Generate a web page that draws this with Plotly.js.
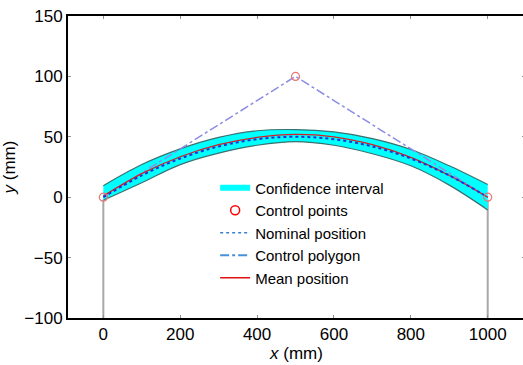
<!DOCTYPE html>
<html>
<head>
<meta charset="utf-8">
<script src="https://cdn.plot.ly/plotly-3.0.1.min.js"></script>
<style>html,body{margin:0;padding:0;overflow:hidden;background:#fff;}#chart{width:525px;height:365px;}</style>
</head>
<body>
<div id="chart"></div>
<script>
// Data
var xs = [0, 100, 200, 300, 400, 500, 600, 700, 800, 900, 1000];
var nominalY = [0, 18, 32, 42, 48, 50, 48, 42, 32, 18, 0];
var meanY = [1, 19.5, 33.5, 43.5, 49.5, 52, 50, 43.5, 33, 18, 0];
var upperY = [9.5, 27, 40, 49.5, 55, 56, 54, 48.5, 39.5, 26, 10.5];
var lowerY = [-2.5, 12, 27, 36.5, 43, 46, 43, 36, 26, 10, -10.5];
var controlX = [0, 500, 1000];
var controlY = [0, 100, 0];
var supportLeftX = [0, 0];
var supportRightX = [1000, 1000];
var supportY = [-100, -2];
var legendNames = ['Confidence interval', 'Control points', 'Nominal position', 'Control polygon', 'Mean position'];

var edge = {color: '#3a7070', width: 1.2, shape: 'spline'};
var traces = [
  {x: supportLeftX, y: supportY, mode: 'lines', line: {color: '#a8a8a8', width: 2}, showlegend: false, hoverinfo: 'skip'},
  {x: supportRightX, y: supportY, mode: 'lines', line: {color: '#a8a8a8', width: 2}, showlegend: false, hoverinfo: 'skip'},
  {x: xs, y: lowerY, mode: 'lines', line: edge, showlegend: false},
  {x: xs, y: upperY, mode: 'lines', fill: 'tonexty', fillcolor: '#00ffff', line: edge, showlegend: false},
  {x: controlX, y: controlY, mode: 'lines', line: {color: '#8c8ce6', width: 1.5, dash: 'dashdot'}, showlegend: false},
  {x: xs, y: meanY, mode: 'lines', line: {color: '#d42020', width: 1.2, shape: 'spline'}, showlegend: false},
  {x: xs, y: nominalY, mode: 'lines', line: {color: '#1e32d8', width: 2, dash: 'dot', shape: 'spline'}, showlegend: false},
  {x: controlX, y: controlY, mode: 'markers', marker: {symbol: 'circle-open', size: 8, color: '#e87878', line: {width: 1.2}}, showlegend: false},
  // legend entries
  {x: [null], y: [null], name: legendNames[0], mode: 'none', fill: 'toself', fillcolor: '#00ffff'},
  {x: [null], y: [null], name: legendNames[1], mode: 'markers', marker: {symbol: 'circle-open', size: 9, color: '#ff0000', line: {width: 1.5}}},
  {x: [null], y: [null], name: legendNames[2], mode: 'lines', line: {color: '#3a80d0', width: 1.5, dash: 'dot'}},
  {x: [null], y: [null], name: legendNames[3], mode: 'lines', line: {color: '#4a90d9', width: 2, dash: 'dashdot'}},
  {x: [null], y: [null], name: legendNames[4], mode: 'lines', line: {color: '#e01010', width: 1.5}}
];

var fontFam = 'Liberation Sans, Arial, sans-serif';
var layout = {
  width: 525, height: 365,
  margin: {l: 68, r: 0, t: 16, b: 47},
  paper_bgcolor: '#ffffff', plot_bgcolor: '#ffffff',
  font: {family: fontFam, size: 16, color: '#000'},
  showlegend: true,
  legend: {x: 0.322, y: 0.485, xanchor: 'left', yanchor: 'top', bgcolor: 'rgba(255,255,255,0)', borderwidth: 0,
           traceorder: 'normal', font: {family: fontFam, size: 15, color: '#000'}, tracegroupgap: 0},
  xaxis: {
    range: [-91.9, 1097], tickvals: [0, 200, 400, 600, 800, 1000], showgrid: false, zeroline: false,
    showline: true, linecolor: '#000', linewidth: 2, mirror: 'ticks',
    ticks: 'inside', ticklen: 3, tickcolor: '#909090', tickwidth: 1,
    tickfont: {family: fontFam, size: 17, color: '#000'},
    title: {text: '<i>x</i> (mm)', font: {family: fontFam, size: 17, color: '#000'}, standoff: 3}
  },
  yaxis: {
    range: [-100, 150], tickvals: [-100, -50, 0, 50, 100, 150], showgrid: false, zeroline: false,
    showline: true, linecolor: '#000', linewidth: 2, mirror: 'ticks',
    ticks: 'inside', ticklen: 3, tickcolor: '#909090', tickwidth: 1,
    tickfont: {family: fontFam, size: 17, color: '#000'},
    title: {text: '<i>y</i> (mm)', font: {family: fontFam, size: 17, color: '#000'}, standoff: 4}
  }
};

Plotly.newPlot('chart', traces, layout, {staticPlot: true, displayModeBar: false});
</script>
</body>
</html>
